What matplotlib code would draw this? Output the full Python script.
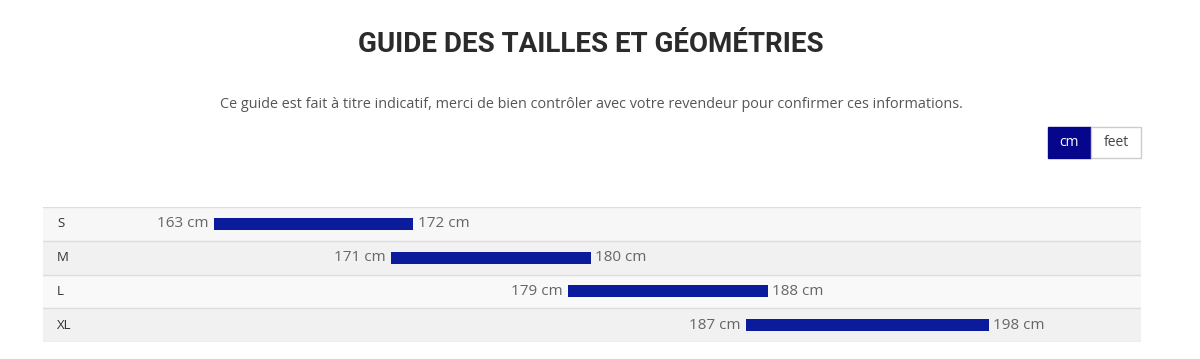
import matplotlib.pyplot as plt
from matplotlib.patches import Rectangle

sizes = ["S", "M", "L", "XL"]
min_cm = [163, 171, 179, 187]
max_cm = [172, 180, 188, 198]

W, H = 1200, 359
fig = plt.figure(figsize=(W / 100, H / 100), dpi=100)
fig.patch.set_facecolor("white")

fig.text(591 / W, 1 - 44 / H, "GUIDE DES TAILLES ET GÉOMÉTRIES", ha="center", va="center",
         fontsize=20, fontweight="bold", color="#2b2b2b", family="Roboto")
fig.text(591 / W, 1 - 104 / H,
         "Ce guide est fait à titre indicatif, merci de bien contrôler avec votre revendeur pour confirmer ces informations.",
         ha="center", va="center", fontsize=10.4, color="#555555", family="Open Sans")

# unit toggle
fig.patches.append(Rectangle((1048 / W, 1 - 158 / H), 43 / W, 31 / H, transform=fig.transFigure,
                             facecolor="#06068c", edgecolor="#06068c"))
fig.patches.append(Rectangle((1091 / W, 1 - 158 / H), 50 / W, 31 / H, transform=fig.transFigure,
                             facecolor="white", edgecolor="#cccccc", lw=1))
fig.text(1069.5 / W, 1 - 142 / H, "cm", ha="center", va="center", fontsize=10, color="white", family="Open Sans")
fig.text(1116 / W, 1 - 142 / H, "feet", ha="center", va="center", fontsize=10, color="#444444", family="Open Sans")

# table of size ranges
ax = fig.add_axes([43 / W, (H - 342) / H, (1141 - 43) / W, (342 - 207) / H])
ax.set_xlim(155.28, 204.85)
ax.set_ylim(len(sizes) - 0.5, -0.5)
ax.axis("off")

row_colors = ["#f7f7f7", "#f1f1f1", "#f9f9f9", "#f1f1f1"]
for i, s in enumerate(sizes):
    ax.axhspan(i - 0.5, i + 0.5, color=row_colors[i], zorder=0)
    ax.axhline(i - 0.5, color="#dddddd", lw=1, zorder=1)
    ax.text(14 / 1098, i, s, transform=ax.get_yaxis_transform(), ha="left", va="center",
            fontsize=9.5, color="#333333", family="Open Sans")
ax.axhline(len(sizes) - 0.5, color="#dddddd", lw=1, zorder=1)

widths = [b - a for a, b in zip(min_cm, max_cm)]
ax.barh(range(len(sizes)), widths, left=min_cm, height=0.36, color="#0a1c9c", zorder=2)
for i in range(len(sizes)):
    ax.annotate(f"{min_cm[i]} cm", (min_cm[i], i), xytext=(-4, 0), textcoords="offset points",
                ha="right", va="center", fontsize=11, color="#666666", family="Open Sans")
    ax.annotate(f"{max_cm[i]} cm", (max_cm[i], i), xytext=(3, 0), textcoords="offset points",
                ha="left", va="center", fontsize=11, color="#666666", family="Open Sans")

fig.savefig("out.png", dpi=100)
